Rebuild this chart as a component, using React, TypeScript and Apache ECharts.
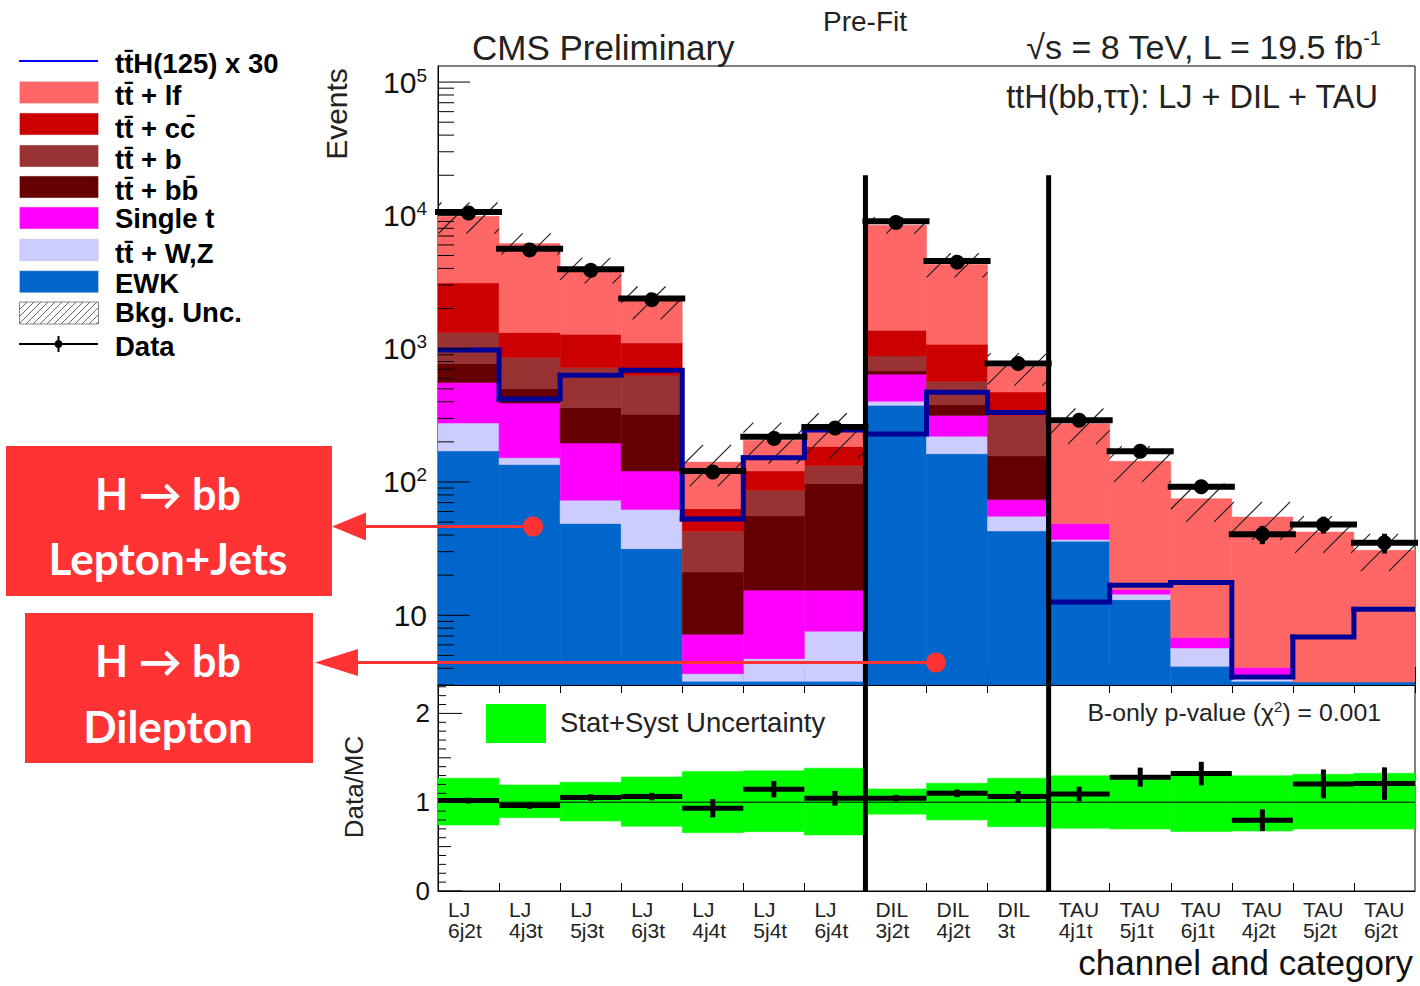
import React, { useEffect, useRef } from "react";
import * as echarts from "echarts";

// ---------------- data ----------------
const channels = ["LJ", "LJ", "LJ", "LJ", "LJ", "LJ", "LJ", "DIL", "DIL", "DIL", "TAU", "TAU", "TAU", "TAU", "TAU", "TAU"];
const categories = ["6j2t", "4j3t", "5j3t", "6j3t", "4j4t", "5j4t", "6j4t", "3j2t", "4j2t", "3t", "4j1t", "5j1t", "6j1t", "4j2t", "5j2t", "6j2t"];

const ewk = [171, 135, 48.8, 31.6, 3.2, 3.2, 3.2, 376, 163, 42.9, 36, 13.1, 4.14, 3.2, 3.16, 3.16];
const ttVZ = [106, 17, 24.2, 30.5, 0.45, 1.53, 4.4, 27, 57, 12.4, 1.0, 1.3, 1.55, 0.3, 0, 0];
const singleT = [280, 239, 123, 58.9, 3.55, 10.7, 7.8, 240, 96, 18.5, 11.8, 1.2, 1.12, 0.56, 0, 0];
const ttbb = [216, 111, 165, 201, 13.9, 40.2, 81.9, 38, 65, 83.2, 0, 0, 0, 0, 0, 0];
const ttb = [548, 355, 359, 309, 21.6, 31.1, 35.7, 200, 188, 159, 0, 0, 0, 0, 0, 0];
const ttcc = [1792, 464, 562, 473, 20.4, 34.3, 52, 493, 510, 157, 0, 0, 0, 0, 0, 0];
const ttlf = [6727, 4819, 2638, 1176, 77.9, 85, 52, 7056, 3201, 256, 225, 127.4, 68.2, 50.5, 39, 27.6];

const dataObs = [10600, 5620, 3950, 2380, 121, 218, 259, 9040, 4550, 773, 290, 170, 92, 40.5, 48, 35];
const tth30 = [977, 420, 631, 689, 52.7, 152, 245, 229, 471, 332, 12.6, 16.8, 17.6, 3.44, 6.88, 11.1];

const ratio = [1.018, 0.962, 1.052, 1.063, 0.932, 1.147, 1.045, 1.045, 1.1, 1.063, 1.092, 1.282, 1.322, 0.797, 1.206, 1.21];
const ratioErr = [0.01, 0.015, 0.015, 0.02, 0.08, 0.07, 0.06, 0.015, 0.02, 0.04, 0.06, 0.085, 0.11, 0.1, 0.14, 0.16];
const bandLo = [0.743, 0.826, 0.788, 0.728, 0.657, 0.668, 0.63, 0.865, 0.8, 0.724, 0.706, 0.698, 0.669, 0.675, 0.698, 0.698];
const bandHi = [1.27, 1.195, 1.225, 1.285, 1.345, 1.353, 1.383, 1.15, 1.214, 1.27, 1.299, 1.299, 1.299, 1.299, 1.315, 1.326];

const separators = [7, 10];

// ---------------- settings ----------------
const Y_MIN = 3;
const Y_MAX = 132000;
const R_MAX = 2.32;
const SEP_TOP = 20000;
const FONT = "'Liberation Sans', Arial, Helvetica, sans-serif";
const BOXFONT = "Lato, 'DejaVu Sans', sans-serif";

const processes = [
  { name: "EWK", values: ewk, color: "#0066cc" },
  { name: "tt+W,Z", values: ttVZ, color: "#ccccff" },
  { name: "Single t", values: singleT, color: "#ff00ff" },
  { name: "tt+bb", values: ttbb, color: "#660000" },
  { name: "tt+b", values: ttb, color: "#993333" },
  { name: "tt+cc", values: ttcc, color: "#cc0000" },
  { name: "tt+lf", values: ttlf, color: "#ff6666" },
];

function hatchSegments(x0: number, x1: number, ya: number, yb: number, s: number, stroke: string, lw: number, z?: number) {
  const out: any[] = [];
  const start = Math.ceil((x0 + ya) / s) * s;
  for (let c = start; c <= x1 + yb; c += s) {
    const xs = Math.max(x0, c - yb);
    const xe = Math.min(x1, c - ya);
    if (xe - xs > 0.5) {
      const seg: any = { type: "line", shape: { x1: xs, y1: c - xs, x2: xe, y2: c - xe }, style: { stroke, lineWidth: lw } };
      if (z !== undefined) seg.z = z;
      out.push(seg);
    }
  }
  return out;
}

function buildOption() {
  const cum = categories.map(() => 0);
  const stacks = processes.map((p) => {
    const items = p.values.map((v, i) => {
      const lo = cum[i];
      cum[i] += v;
      return [i, lo, cum[i]];
    });
    return { ...p, items };
  });
  const totals = cum.slice();

  const series: any[] = [];

  stacks.forEach((s) => {
    series.push({
      type: "custom",
      name: s.name,
      xAxisIndex: 0,
      yAxisIndex: 0,
      clip: true,
      z: 2,
      encode: { x: 0, y: 2 },
      data: s.items,
      renderItem: (params: any, api: any) => {
        const i = api.value(0);
        const lo = api.value(1);
        const hi = api.value(2);
        if (!(hi > lo) || hi <= Y_MIN) return null;
        const a = api.coord([i, hi]);
        const b = api.coord([i + 1, Math.max(lo, Y_MIN)]);
        return {
          type: "rect",
          shape: { x: a[0], y: a[1], width: b[0] - a[0], height: b[1] - a[1] },
          style: { fill: s.color, stroke: s.color, lineWidth: 0.5 },
        };
      },
    });
  });

  // hatched background uncertainty
  series.push({
    type: "custom",
    name: "Bkg. Unc.",
    xAxisIndex: 0,
    yAxisIndex: 0,
    clip: true,
    z: 3,
    encode: { x: 0, y: 2 },
    data: totals.map((t, i) => [i, t * bandLo[i], t * bandHi[i]]),
    renderItem: (params: any, api: any) => {
      const i = api.value(0);
      const a = api.coord([i, api.value(2)]);
      const b = api.coord([i + 1, Math.max(api.value(1), Y_MIN)]);
      return { type: "group", children: hatchSegments(a[0], b[0], a[1], b[1], 28, "#222", 1.2) };
    },
  });

  // ttH x 30 step line
  series.push({
    type: "custom",
    name: "ttH(125) x 30",
    xAxisIndex: 0,
    yAxisIndex: 0,
    clip: true,
    z: 4,
    encode: { x: 0, y: 1 },
    data: tth30.map((v, i) => [i, v]),
    renderItem: (params: any, api: any) => {
      const i = api.value(0);
      const v = api.value(1);
      const pts = [api.coord([i, v]), api.coord([i + 1, v])];
      if (i < tth30.length - 1) pts.push(api.coord([i + 1, tth30[i + 1]]));
      return {
        type: "polyline",
        shape: { points: pts },
        style: { stroke: "#000099", lineWidth: 5, fill: null, lineCap: "square", lineJoin: "miter" },
      };
    },
  });

  // separators (main)
  series.push({
    type: "custom",
    xAxisIndex: 0,
    yAxisIndex: 0,
    z: 5,
    encode: { x: 0, y: 1 },
    data: separators.map((x) => [x, SEP_TOP]),
    renderItem: (params: any, api: any) => {
      const a = api.coord([api.value(0), api.value(1)]);
      const b = api.coord([api.value(0), Y_MIN]);
      return { type: "line", shape: { x1: a[0], y1: a[1], x2: b[0], y2: b[1] }, style: { stroke: "#000", lineWidth: 5 } };
    },
  });

  // data points main
  series.push({
    type: "custom",
    name: "Data",
    xAxisIndex: 0,
    yAxisIndex: 0,
    z: 6,
    encode: { x: 0, y: 1 },
    data: dataObs.map((v, i) => [i, v]),
    renderItem: (params: any, api: any) => {
      const i = api.value(0);
      const n = api.value(1);
      const err = Math.sqrt(n);
      const l = api.coord([i, n]);
      const r = api.coord([i + 1, n]);
      const c = api.coord([i + 0.5, n]);
      const up = api.coord([i + 0.5, n + err]);
      const dn = api.coord([i + 0.5, Math.max(n - err, Y_MIN)]);
      return {
        type: "group",
        children: [
          { type: "line", shape: { x1: l[0] - 3, y1: l[1], x2: r[0] + 3, y2: r[1] }, style: { stroke: "#000", lineWidth: 6 } },
          { type: "line", shape: { x1: c[0], y1: up[1], x2: c[0], y2: dn[1] }, style: { stroke: "#000", lineWidth: 5 } },
          { type: "circle", shape: { cx: c[0], cy: c[1], r: 7.5 }, style: { fill: "#000" } },
        ],
      };
    },
  });

  // log axis ticks (main)
  const logTicks: number[][] = [];
  for (let e = 0; e <= 5; e++) {
    for (let m = 1; m <= 9; m++) {
      const v = m * Math.pow(10, e);
      if (v >= Y_MIN && v <= Y_MAX) logTicks.push([0, v, m === 1 ? 1 : 0]);
    }
  }
  series.push({
    type: "custom",
    xAxisIndex: 0,
    yAxisIndex: 0,
    z: 7,
    encode: { x: 0, y: 1 },
    data: logTicks,
    renderItem: (params: any, api: any) => {
      const p = api.coord([0, api.value(1)]);
      const len = api.value(2) ? 32 : 16;
      return { type: "line", shape: { x1: p[0], y1: p[1], x2: p[0] + len, y2: p[1] }, style: { stroke: "#000", lineWidth: 1 } };
    },
  });

  // ratio band
  series.push({
    type: "custom",
    name: "Stat+Syst Uncertainty",
    xAxisIndex: 1,
    yAxisIndex: 1,
    clip: true,
    z: 2,
    encode: { x: 0, y: 2 },
    data: bandLo.map((lo, i) => [i, lo, bandHi[i]]),
    renderItem: (params: any, api: any) => {
      const i = api.value(0);
      const a = api.coord([i, api.value(2)]);
      const b = api.coord([i + 1, api.value(1)]);
      return {
        type: "rect",
        shape: { x: a[0], y: a[1], width: b[0] - a[0], height: b[1] - a[1] },
        style: { fill: "#00ff00", stroke: "#00ff00", lineWidth: 0.5 },
      };
    },
  });

  // ratio = 1 line
  series.push({
    type: "custom",
    xAxisIndex: 1,
    yAxisIndex: 1,
    z: 3,
    encode: { x: 0, y: 1 },
    data: [[0, 1]],
    renderItem: (params: any, api: any) => {
      const a = api.coord([0, 1]);
      const b = api.coord([16, 1]);
      return { type: "line", shape: { x1: a[0], y1: a[1], x2: b[0], y2: b[1] }, style: { stroke: "#000", lineWidth: 1 } };
    },
  });

  // separators (ratio)
  series.push({
    type: "custom",
    xAxisIndex: 1,
    yAxisIndex: 1,
    z: 5,
    encode: { x: 0, y: 1 },
    data: separators.map((x) => [x, R_MAX]),
    renderItem: (params: any, api: any) => {
      const a = api.coord([api.value(0), R_MAX]);
      const b = api.coord([api.value(0), 0]);
      return { type: "line", shape: { x1: a[0], y1: a[1], x2: b[0], y2: b[1] }, style: { stroke: "#000", lineWidth: 5 } };
    },
  });

  // ratio points
  series.push({
    type: "custom",
    name: "Data/MC",
    xAxisIndex: 1,
    yAxisIndex: 1,
    z: 6,
    encode: { x: 0, y: 1 },
    data: ratio.map((v, i) => [i, v, ratioErr[i]]),
    renderItem: (params: any, api: any) => {
      const i = api.value(0);
      const v = api.value(1);
      const e = api.value(2);
      const l = api.coord([i, v]);
      const r = api.coord([i + 1, v]);
      const up = api.coord([i + 0.5, v + e]);
      const dn = api.coord([i + 0.5, v - e]);
      return {
        type: "group",
        children: [
          { type: "line", shape: { x1: l[0], y1: l[1], x2: r[0], y2: r[1] }, style: { stroke: "#000", lineWidth: 5 } },
          { type: "line", shape: { x1: up[0], y1: up[1] - 2, x2: dn[0], y2: dn[1] + 2 }, style: { stroke: "#000", lineWidth: 5 } },
        ],
      };
    },
  });

  // ratio y ticks
  const rTicks: number[][] = [];
  for (let k = 0; k <= 23; k++) {
    const v = k / 10;
    rTicks.push([0, v, k % 10 === 0 ? 2 : k % 5 === 0 ? 1 : 0]);
  }
  series.push({
    type: "custom",
    xAxisIndex: 1,
    yAxisIndex: 1,
    z: 7,
    encode: { x: 0, y: 1 },
    data: rTicks,
    renderItem: (params: any, api: any) => {
      const p = api.coord([0, api.value(1)]);
      const kind = api.value(2);
      const len = kind === 2 ? 24 : kind === 1 ? 13 : 8;
      return { type: "line", shape: { x1: p[0], y1: p[1], x2: p[0] + len, y2: p[1] }, style: { stroke: "#000", lineWidth: 1 } };
    },
  });

  // ---------------- graphic ----------------
  const tb = "t\u0304";
  const legendRows = [
    { label: `t${tb}H(125) x 30`, kind: "line", color: "#0000ff", y: 61, ty: 63 },
    { label: `t${tb} + lf`, kind: "box", color: "#ff6666", y: 92.5, ty: 95 },
    { label: `t${tb} + cc\u0304`, kind: "box", color: "#cc0000", y: 124, ty: 128.5 },
    { label: `t${tb} + b`, kind: "box", color: "#993333", y: 156, ty: 159.5 },
    { label: `t${tb} + bb\u0304`, kind: "box", color: "#660000", y: 187, ty: 190 },
    { label: "Single t", kind: "box", color: "#ff00ff", y: 218, ty: 218.5 },
    { label: `t${tb} + W,Z`, kind: "box", color: "#ccccff", y: 250, ty: 253.5 },
    { label: "EWK", kind: "box", color: "#0066cc", y: 281.7, ty: 283 },
    { label: "Bkg. Unc.", kind: "hatch", color: "#000", y: 313, ty: 312.5 },
    { label: "Data", kind: "data", color: "#000", y: 344, ty: 346 },
  ];
  const g: any[] = [];
  legendRows.forEach((r) => {
    if (r.kind === "line") {
      g.push({ type: "line", z: 100, shape: { x1: 19, y1: r.y, x2: 98, y2: r.y }, style: { stroke: r.color, lineWidth: 2 } });
    } else if (r.kind === "box") {
      g.push({ type: "rect", z: 100, shape: { x: 19.5, y: r.y - 11, width: 79, height: 22 }, style: { fill: r.color, stroke: "#ddd", lineWidth: 0.5 } });
    } else if (r.kind === "hatch") {
      g.push({ type: "rect", z: 100, shape: { x: 19.5, y: r.y - 11, width: 79, height: 22 }, style: { fill: "#fff", stroke: "#888", lineWidth: 1 } });
      hatchSegments(19.5, 98.5, r.y - 11, r.y + 11, 7, "#666", 1, 101).forEach((s) => g.push(s));
    } else {
      g.push({ type: "line", z: 100, shape: { x1: 19, y1: r.y, x2: 98, y2: r.y }, style: { stroke: "#000", lineWidth: 2 } });
      g.push({ type: "line", z: 100, shape: { x1: 58.5, y1: r.y - 8, x2: 58.5, y2: r.y + 8 }, style: { stroke: "#000", lineWidth: 2 } });
      g.push({ type: "circle", z: 100, shape: { cx: 58.5, cy: r.y, r: 4 }, style: { fill: "#000" } });
    }
    g.push({
      type: "text",
      z: 100,
      x: 115,
      y: r.ty,
      style: { text: r.label, fontFamily: FONT, fontWeight: "bold", fontSize: 27.5, fill: "#000", align: "left", verticalAlign: "middle" },
    });
  });

  // titles
  g.push({ type: "text", z: 100, x: 865, y: 21, style: { text: "Pre-Fit", fontFamily: FONT, fontSize: 28, fill: "#222", align: "center", verticalAlign: "middle" } });
  g.push({ type: "text", z: 100, x: 472, y: 47, style: { text: "CMS Preliminary", fontFamily: FONT, fontSize: 35, fill: "#222", align: "left", verticalAlign: "middle" } });
  g.push({
    type: "text",
    z: 100,
    x: 1381,
    y: 47,
    style: {
      text: "{m|\u221As = 8 TeV, L = 19.5 fb}{s|-1}",
      align: "right",
      verticalAlign: "middle",
      rich: {
        m: { fontFamily: FONT, fontSize: 34, fill: "#222" },
        s: { fontFamily: FONT, fontSize: 20, fill: "#222", padding: [0, 0, 18, 0] },
      },
    },
  });
  g.push({
    type: "text",
    z: 100,
    x: 1378,
    y: 97,
    style: { text: "ttH(bb,\u03C4\u03C4): LJ + DIL + TAU", fontFamily: FONT, fontSize: 32.5, fill: "#222", align: "right", verticalAlign: "middle" },
  });
  g.push({
    type: "text",
    z: 100,
    x: 336,
    y: 114,
    rotation: Math.PI / 2,
    style: { text: "Events", fontFamily: FONT, fontSize: 30, fill: "#222", align: "center", verticalAlign: "middle" },
  });
  g.push({
    type: "text",
    z: 100,
    x: 354,
    y: 787,
    rotation: Math.PI / 2,
    style: { text: "Data/MC", fontFamily: FONT, fontSize: 26, fill: "#222", align: "center", verticalAlign: "middle" },
  });
  g.push({
    type: "text",
    z: 100,
    x: 1413,
    y: 962,
    style: { text: "channel and category", fontFamily: FONT, fontSize: 35, fill: "#111", align: "right", verticalAlign: "middle" },
  });
  // ratio legend
  g.push({ type: "rect", z: 100, shape: { x: 486, y: 704, width: 60, height: 39 }, style: { fill: "#00ff00" } });
  g.push({ type: "text", z: 100, x: 560, y: 722, style: { text: "Stat+Syst Uncertainty", fontFamily: FONT, fontSize: 27.5, fill: "#222", align: "left", verticalAlign: "middle" } });
  g.push({
    type: "text",
    z: 100,
    x: 1381,
    y: 712,
    style: {
      text: "{m|B-only p-value (\u03C7}{s|2}{m|) = 0.001}",
      align: "right",
      verticalAlign: "middle",
      rich: {
        m: { fontFamily: FONT, fontSize: 24.8, fill: "#222" },
        s: { fontFamily: FONT, fontSize: 15, fill: "#222", padding: [0, 0, 12, 0] },
      },
    },
  });

  // annotation boxes
  const red = "#ff3333";
  g.push({ type: "rect", z: 110, shape: { x: 6, y: 446, width: 326, height: 150 }, style: { fill: red } });
  g.push({ type: "text", z: 111, x: 168, y: 493, style: { text: "H \u2192 bb", fontFamily: BOXFONT, fontWeight: "bold", fontSize: 43, fill: "#fff", align: "center", verticalAlign: "middle" } });
  g.push({ type: "text", z: 111, x: 168, y: 558, style: { text: "Lepton+Jets", fontFamily: BOXFONT, fontWeight: "bold", fontSize: 44, fill: "#fff", align: "center", verticalAlign: "middle" } });
  g.push({ type: "rect", z: 110, shape: { x: 25, y: 613, width: 288, height: 150 }, style: { fill: red } });
  g.push({ type: "text", z: 111, x: 168, y: 660, style: { text: "H \u2192 bb", fontFamily: BOXFONT, fontWeight: "bold", fontSize: 43, fill: "#fff", align: "center", verticalAlign: "middle" } });
  g.push({ type: "text", z: 111, x: 168, y: 726, style: { text: "Dilepton", fontFamily: BOXFONT, fontWeight: "bold", fontSize: 44, fill: "#fff", align: "center", verticalAlign: "middle" } });
  // arrows
  g.push({ type: "line", z: 110, shape: { x1: 360, y1: 526.5, x2: 533, y2: 526.5 }, style: { stroke: red, lineWidth: 3 } });
  g.push({ type: "polygon", z: 110, shape: { points: [[332, 526.5], [366, 512.5], [366, 540.5]] }, style: { fill: red } });
  g.push({ type: "circle", z: 110, shape: { cx: 533, cy: 526.5, r: 10 }, style: { fill: red } });
  g.push({ type: "line", z: 110, shape: { x1: 350, y1: 662.5, x2: 936, y2: 662.5 }, style: { stroke: red, lineWidth: 3 } });
  g.push({ type: "polygon", z: 110, shape: { points: [[315, 662.5], [358, 649], [358, 676]] }, style: { fill: red } });
  g.push({ type: "circle", z: 110, shape: { cx: 936, cy: 662.5, r: 10 }, style: { fill: red } });

  const option: any = {
    animation: false,
    backgroundColor: "#ffffff",
    grid: [
      { left: 438, top: 66, width: 977, height: 619, show: true, borderColor: "#000", borderWidth: 1, backgroundColor: "transparent" },
      { left: 438, top: 685, width: 977, height: 206, show: true, borderColor: "#000", borderWidth: 1, backgroundColor: "transparent" },
    ],
    xAxis: [
      {
        gridIndex: 0,
        type: "value",
        min: 0,
        max: 16,
        interval: 1,
        axisLine: { show: true, lineStyle: { color: "#000", width: 1 } },
        axisTick: { show: true, inside: true, length: 18, lineStyle: { color: "#000", width: 1 } },
        minorTick: { show: true, splitNumber: 2, length: 9, lineStyle: { color: "#000", width: 1 } },
        axisLabel: { show: false },
        splitLine: { show: false },
        minorSplitLine: { show: false },
      },
      {
        gridIndex: 1,
        type: "value",
        min: 0,
        max: 16,
        interval: 1,
        position: "bottom",
        axisLine: { show: true, lineStyle: { color: "#000", width: 1 } },
        axisTick: { show: true, inside: true, length: 8, lineStyle: { color: "#000", width: 1 } },
        axisLabel: {
          show: true,
          formatter: (v: number) => (v < categories.length ? `${channels[v]}\n${categories[v]}` : ""),
          align: "left",
          padding: [0, 0, 0, 10],
          margin: 8,
          fontSize: 21,
          lineHeight: 21,
          color: "#222",
          fontFamily: FONT,
          showMaxLabel: false,
        },
        splitLine: { show: false },
      },
      {
        gridIndex: 1,
        type: "value",
        min: 0,
        max: 16,
        interval: 1,
        position: "top",
        axisLine: { show: true, lineStyle: { color: "#000", width: 1 } },
        axisTick: { show: true, inside: true, length: 8, lineStyle: { color: "#000", width: 1 } },
        axisLabel: { show: false },
        splitLine: { show: false },
      },
    ],
    yAxis: [
      {
        gridIndex: 0,
        type: "log",
        logBase: 10,
        min: Y_MIN,
        max: Y_MAX,
        axisLine: { show: true, lineStyle: { color: "#000", width: 1 } },
        axisTick: { show: false },
        splitLine: { show: false },
        axisLabel: {
          margin: 11,
          showMinLabel: false,
          showMaxLabel: false,
          formatter: (v: number) => {
            const e = Math.round(Math.log10(v));
            if (Math.abs(v - Math.pow(10, e)) > 1e-6 * v) return "";
            if (e === 1) return "{b|10}";
            return `{b|10}{s|${e}}`;
          },
          rich: {
            b: { fontFamily: FONT, fontSize: 30, color: "#111" },
            s: { fontFamily: FONT, fontSize: 19, color: "#111", padding: [0, 0, 14, 0] },
          },
        },
      },
      {
        gridIndex: 1,
        type: "value",
        min: 0,
        max: R_MAX,
        interval: 1,
        axisLine: { show: true, lineStyle: { color: "#000", width: 1 } },
        axisTick: { show: false },
        splitLine: { show: false },
        axisLabel: {
          margin: 8,
          fontSize: 26,
          color: "#111",
          fontFamily: FONT,
          formatter: (v: number) => (Math.abs(v - Math.round(v)) < 1e-9 ? String(Math.round(v)) : ""),
        },
      },
    ],
    series,
    graphic: g,
  };
  return option;
}

export default function App() {
  const ref = useRef<HTMLDivElement>(null);
  useEffect(() => {
    if (!ref.current) return;
    const chart = echarts.init(ref.current, undefined, { renderer: "svg" });
    chart.setOption(buildOption());
    return () => chart.dispose();
  }, []);
  return <div ref={ref} style={{ position: "fixed", left: 0, top: 0, width: 1420, height: 986, background: "#fff" }} />;
}
